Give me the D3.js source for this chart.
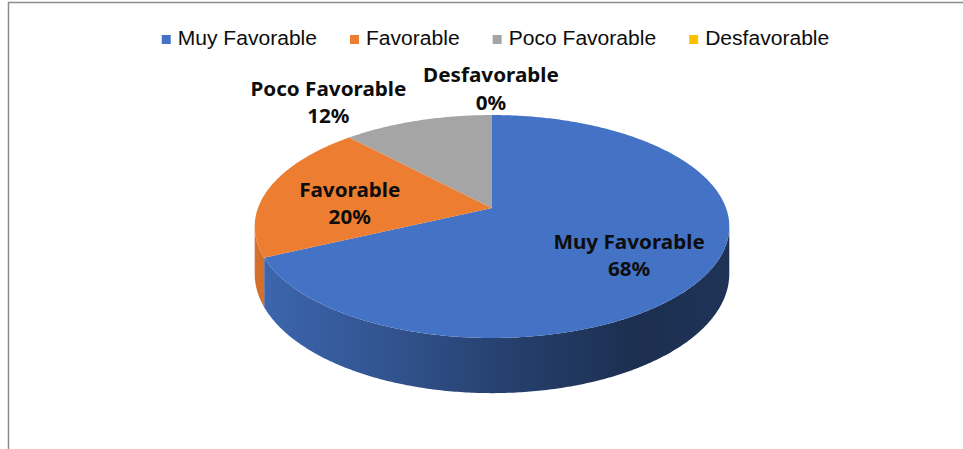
<!DOCTYPE html>
<html><head><meta charset="utf-8">
<script src="https://cdn.jsdelivr.net/npm/d3@7"></script>
<style>body{margin:0;background:#fff}</style>
</head><body><svg id="c" width="963" height="449"></svg>
<script>
// ---- data ----
const categories = ["Muy Favorable", "Favorable", "Poco Favorable", "Desfavorable"];
const values = [68, 20, 12, 0];

// ---- styles ----
const colors = ["#4472C4", "#ED7D31", "#A5A5A5", "#FFC000"];
const LEGEND_STRETCH = 1.08;
const LABEL_STRETCH = 1.06;

const svg = d3.select("#c");
svg.append("rect").attr("x", 8.5).attr("y", 2.5).attr("width", 1000).attr("height", 500)
  .attr("fill", "#fff").attr("stroke", "#8c8c8c").attr("stroke-width", 1.5);

// perspective ellipse geometry
const cx = 492, cy = 208, rx = 234, ry = 108.4, k = 0.166, depth = 46;
function proj(theta, f = 1, d = 0) {
  const z = -Math.cos(theta) * f;
  const s = 1 / (1 - k * z);
  return [cx + rx * Math.sin(theta) * f * s, cy + ry * z * s + depth * d * s];
}
function arcPts(a, b, d) {
  const n = Math.max(2, Math.ceil(Math.abs(b - a) / 0.01));
  return d3.range(n + 1).map(i => proj(a + (b - a) * i / n, 1, d));
}

const pie = d3.pie().sort(null).value(d => d).startAngle(0).endAngle(2 * Math.PI);
const arcs = pie(values);
const total = d3.sum(values);
const pct = d3.format(".0%");

// gradients for side walls
const defs = svg.append("defs");
const stops = [[0, 0.9], [0.3, 0.72], [0.55, 0.55], [0.8, 0.41], [1, 0.45]];
colors.forEach((c, i) => {
  const g = defs.append("linearGradient").attr("id", "side" + i)
    .attr("gradientUnits", "userSpaceOnUse")
    .attr("x1", cx - rx * 1.02).attr("x2", cx + rx * 1.02).attr("y1", 0).attr("y2", 0);
  const base = d3.rgb(c);
  stops.forEach(([o, m]) => {
    g.append("stop").attr("offset", o)
      .attr("stop-color", d3.rgb(base.r * m, base.g * m, base.b * m).formatHex());
  });
});

// side walls (visible front part)
const thR = Math.acos(-k), thL = 2 * Math.PI - thR;
const line = d3.line();
arcs.forEach((a, i) => {
  const s = Math.max(a.startAngle, thR), e = Math.min(a.endAngle, thL);
  if (e <= s) return;
  const pts = arcPts(s, e, 0).concat(arcPts(e, s, 1));
  svg.append("path").attr("d", line(pts) + "Z").attr("fill", `url(#side${i})`);
});

// top faces
arcs.forEach((a, i) => {
  if (a.endAngle - a.startAngle <= 0) return;
  const pts = [[cx, cy]].concat(arcPts(a.startAngle, a.endAngle, 0));
  svg.append("path").attr("d", line(pts) + "Z").attr("fill", colors[i]);
});

// data labels
const labelFont = "'Noto Sans', 'Open Sans', sans-serif";
function stretchText(t, f) {
  const w = t.node().getComputedTextLength();
  t.attr("textLength", w * f).attr("lengthAdjust", "spacingAndGlyphs");
  return w * f;
}
const labelPlace = [
  { inside: true, dx: 3 }, { inside: true, dx: 2 },
  { inside: false, dx: -89, dy: -25 },
  { inside: false, dx: -1, dy: -33 }
];
arcs.forEach((a, i) => {
  const mid = (a.startAngle + a.endAngle) / 2;
  const pl = labelPlace[i];
  let x, y;
  if (pl.inside) { const p = proj(mid, 0.64); x = p[0] + pl.dx; y = p[1] + 1.5; }
  else { const p = proj(mid, 1); x = p[0] + pl.dx; y = p[1] + pl.dy; }
  [categories[i], pct(values[i] / total)].forEach((txt, j) => {
    const t = svg.append("text").attr("x", x).attr("y", y + j * 27.5)
      .attr("text-anchor", "middle").attr("font-family", labelFont)
      .attr("font-weight", "bold").attr("font-size", 19.5).attr("fill", "#0d0d0d").text(txt);
    stretchText(t, LABEL_STRETCH);
  });
});

// legend
const lg = svg.append("g");
let lx = 0;
categories.forEach((c, i) => {
  lg.append("rect").attr("x", lx).attr("y", 35).attr("width", 9).attr("height", 9).attr("fill", colors[i]);
  const t = lg.append("text").attr("x", lx + 16).attr("y", 44.5)
    .attr("font-family", "'Liberation Sans', Arial, sans-serif").attr("font-size", 19.5)
    .attr("fill", "#0d0d0d").text(c);
  const w = stretchText(t, LEGEND_STRETCH);
  lx += 16 + w + 33;
});
lx -= 33;
lg.attr("transform", `translate(${495.5 - lx / 2},0)`);
</script></body></html>
